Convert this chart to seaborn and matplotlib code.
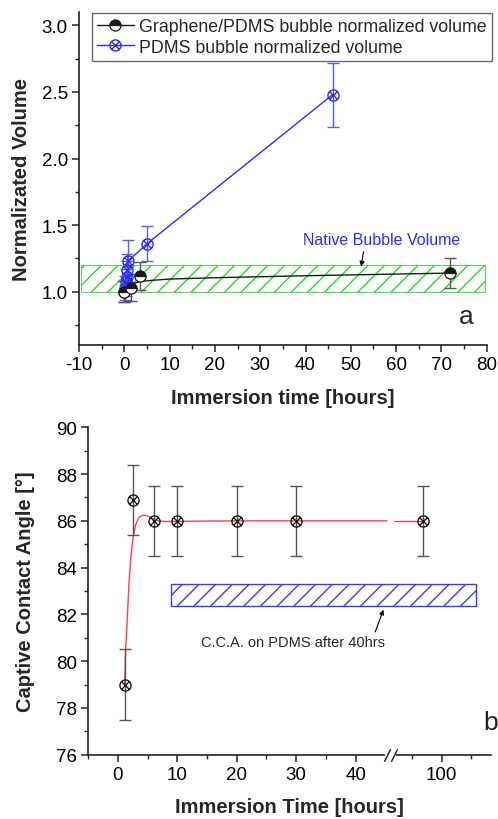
import numpy as np
import pandas as pd
import matplotlib
matplotlib.use("Agg")
import matplotlib.pyplot as plt
import matplotlib.transforms as mtransforms
import seaborn as sns
from matplotlib.path import Path
from matplotlib.patches import Rectangle
from matplotlib.lines import Line2D
from matplotlib.ticker import FixedLocator, MultipleLocator

# ---------------- data: panel a ----------------
pdms_time = [0.0, 0.15, 0.3, 0.5, 0.65, 0.83, 5.0, 46.0]
pdms_vol = [1.00, 1.03, 1.07, 1.11, 1.16, 1.23, 1.36, 2.48]
pdms_err = [0.08, 0.09, 0.10, 0.12, 0.12, 0.155, 0.13, 0.24]

gr_time = [0.0, 1.5, 3.5, 72.0]
gr_vol = [1.00, 1.03, 1.115, 1.14]
gr_err = [0.08, 0.10, 0.105, 0.11]

gr_fit_time = [0.0, 0.5, 1.0, 1.5, 2.0, 3.0, 4.0, 6.0, 10.0, 20.0, 40.0, 72.0]
gr_fit_vol = [1.00, 1.03, 1.045, 1.055, 1.062, 1.072, 1.078, 1.085, 1.095, 1.105, 1.12, 1.14]

native_low, native_high = 1.0, 1.2

# ---------------- data: panel b ----------------
cca_time = [1.1, 2.5, 6.0, 10.0, 20.0, 30.0, 96.8]
cca_angle = [79.0, 86.9, 86.0, 86.0, 86.0, 86.0, 86.0]
cca_err = [1.5, 1.5, 1.5, 1.5, 1.5, 1.5, 1.5]

cca_fit_time = [1.13, 1.29, 1.45, 1.58, 1.72, 1.85, 2.0, 2.13, 2.28, 2.42, 2.55, 2.69, 2.83,
                2.97, 3.25, 3.53, 3.95, 4.37, 4.94, 5.35, 5.78, 6.3, 6.9, 8.0, 10.0, 20.0,
                30.0, 45.3, 91.9, 96.8]
cca_fit_angle = [79.0, 80.5, 81.25, 81.9, 82.65, 83.34, 83.87, 84.33, 84.72, 85.04, 85.27,
                 85.46, 85.65, 85.82, 86.0, 86.14, 86.21, 86.24, 86.21, 86.16, 86.1, 86.04,
                 86.0, 85.97, 85.98, 86.0, 86.0, 86.0, 86.0, 86.0]
cca_fit_segment = [0] * 28 + [1] * 2

pdms_cca_low, pdms_cca_high = 82.35, 83.3
pdms_cca_t0, pdms_cca_t1 = 9.0, 105.7

# ---------------- style ----------------
sns.set_style("ticks")
plt.rcParams["font.family"] = ["Liberation Sans", "DejaVu Sans"]
plt.rcParams["hatch.linewidth"] = 1.0

BLUE = "#2b2bff"
BLACK = "#1a1a1a"
GREY = "#555555"
GREEN = "#22dd22"
RED = "#ff4040"

# circle with an X inside
_circ = Path.unit_circle()
_d = 0.72
_x1 = Path([(-_d, -_d), (_d, _d)], [Path.MOVETO, Path.LINETO])
_x2 = Path([(-_d, _d), (_d, -_d)], [Path.MOVETO, Path.LINETO])
OTIMES = Path.make_compound_path(_circ, _x1, _x2)

fig = plt.figure(figsize=(4.98, 8.20), dpi=100)
W, H = 498.0, 820.0
ax1 = fig.add_axes([79 / W, 1 - 346 / H, (486.7 - 79) / W, (346 - 13) / H])
ax2 = fig.add_axes([88.3 / W, 1 - 755.7 / H, (491 - 88.3) / W, (755.7 - 428.3) / H])

TICK_FS = 13.5
LABEL_FS = 14.5

# ================= panel a =================
ax1.add_patch(Rectangle((-9.6, native_low), 89.3, native_high - native_low,
                        facecolor="none", edgecolor=GREEN, hatch="//", lw=0.6, zorder=1))

df_pdms = pd.DataFrame({"t": pdms_time, "v": pdms_vol})
sns.lineplot(data=df_pdms, x="t", y="v", ax=ax1, color=BLUE, lw=1.0,
             estimator=None, sort=False, zorder=3)
ax1.errorbar(pdms_time, pdms_vol, yerr=pdms_err, fmt="none", ecolor="#5a5aff",
             elinewidth=1.0, capsize=4.5, capthick=1.0, zorder=3)
ax1.plot(pdms_time, pdms_vol, ls="none", marker=OTIMES, ms=8, mfc="none",
         mec=BLUE, mew=1.0, zorder=4)

df_fit = pd.DataFrame({"t": gr_fit_time, "v": gr_fit_vol})
sns.lineplot(data=df_fit, x="t", y="v", ax=ax1, color=BLACK, lw=1.0,
             estimator=None, zorder=3)
ax1.errorbar(gr_time, gr_vol, yerr=gr_err, fmt="none", ecolor=GREY,
             elinewidth=1.0, capsize=4.5, capthick=1.0, zorder=3)
ax1.plot(gr_time, gr_vol, ls="none", marker="o", ms=8, fillstyle="top",
         mfc=BLACK, mfcalt="white", mec=BLACK, mew=0.9, zorder=4)

ax1.set_xlim(-10, 80)
ax1.set_ylim(0.6, 3.1)
ax1.xaxis.set_major_locator(MultipleLocator(10))
ax1.xaxis.set_minor_locator(MultipleLocator(5))
ax1.yaxis.set_major_locator(FixedLocator([1.0, 1.5, 2.0, 2.5, 3.0]))
ax1.yaxis.set_minor_locator(MultipleLocator(0.25))
ax1.set_xticklabels([f"{int(v)}" for v in ax1.get_xticks()])
ax1.set_yticklabels([f"{v:.1f}" for v in ax1.get_yticks()])
ax1.set_xlabel("Immersion time [hours]", fontsize=LABEL_FS, fontweight="bold", labelpad=11)
ax1.set_ylabel("Normalizated Volume", fontsize=LABEL_FS, fontweight="bold", labelpad=8)

ax1.text(56.8, 1.39, "Native Bubble Volume", color=BLUE, fontsize=11.5,
         ha="center", va="center")
ax1.annotate("", xy=(52.3, 1.19), xytext=(52.8, 1.30),
             arrowprops=dict(arrowstyle="-|>", color="black", lw=0.8,
                             mutation_scale=7, shrinkA=0, shrinkB=0))
ax1.text(75.5, 0.82, "a", fontsize=19, ha="center", va="center")

handles = [
    Line2D([], [], color=BLACK, lw=1.0, marker="o", ms=8, fillstyle="top",
           mfc=BLACK, mfcalt="white", mec=BLACK, mew=0.9),
    Line2D([], [], color=BLUE, lw=1.0, marker=OTIMES, ms=8, mfc="none",
           mec=BLUE, mew=1.0),
]
leg = ax1.legend(handles, ["Graphene/PDMS bubble normalized volume",
                           "PDMS bubble normalized volume"],
                 loc="upper left", bbox_to_anchor=(91.7 / W, 1 - 14 / H),
                 bbox_transform=fig.transFigure, borderaxespad=0,
                 fontsize=12.8, frameon=True, fancybox=False, handlelength=2.1,
                 handletextpad=0.3, borderpad=0.28, labelspacing=0.2)
leg.get_frame().set_edgecolor("#444444")
leg.get_frame().set_linewidth(1.0)

# ================= panel b (broken x axis) =================
B1, B2 = 45.3, 91.9
SHIFT = 45.5
SLOPE = ((B2 - SHIFT) - B1) / (B2 - B1)


def fwd(x):
    x = np.asarray(x, dtype=float)
    return np.where(x <= B1, x, np.where(x >= B2, x - SHIFT, B1 + (x - B1) * SLOPE))


def inv(y):
    y = np.asarray(y, dtype=float)
    yb2 = B2 - SHIFT
    return np.where(y <= B1, y, np.where(y >= yb2, y + SHIFT, B1 + (y - B1) / SLOPE))


ax2.set_xscale("function", functions=(fwd, inv))

ax2.add_patch(Rectangle((pdms_cca_t0, pdms_cca_low), pdms_cca_t1 - pdms_cca_t0,
                        pdms_cca_high - pdms_cca_low, facecolor="none",
                        edgecolor="#3a3aff", hatch="//", lw=1.0, zorder=1))

df_cfit = pd.DataFrame({"t": cca_fit_time, "a": cca_fit_angle, "seg": cca_fit_segment})
sns.lineplot(data=df_cfit, x="t", y="a", units="seg", estimator=None, ax=ax2,
             color=RED, lw=1.0, zorder=3)
ax2.errorbar(cca_time, cca_angle, yerr=cca_err, fmt="none", ecolor=GREY,
             elinewidth=1.0, capsize=4.5, capthick=1.0, zorder=3)
ax2.plot(cca_time, cca_angle, ls="none", marker=OTIMES, ms=8, mfc="none",
         mec=BLACK, mew=1.0, zorder=4)

ax2.set_xlim(-5, 108.3)
ax2.set_ylim(76, 90)
ax2.xaxis.set_major_locator(FixedLocator([0, 10, 20, 30, 40, 100]))
ax2.xaxis.set_minor_locator(FixedLocator([-5, 5, 15, 25, 35, 95, 105]))
ax2.set_xticklabels(["0", "10", "20", "30", "40", "100"])
ax2.yaxis.set_major_locator(MultipleLocator(2))
ax2.yaxis.set_minor_locator(MultipleLocator(1))
ax2.set_yticklabels([f"{int(v)}" for v in ax2.get_yticks()])
ax2.set_xlabel("Immersion Time [hours]", fontsize=LABEL_FS, fontweight="bold", labelpad=10.5)
ax2.set_ylabel("Captive Contact Angle [°]", fontsize=LABEL_FS, fontweight="bold", labelpad=15.5)

ax2.text(29.4, 80.8, "C.C.A. on PDMS after 40hrs", fontsize=10.5,
         ha="center", va="center")
ax2.annotate("", xy=(44.7, 82.2), xytext=(43.3, 81.25),
             arrowprops=dict(arrowstyle="-|>", color="black", lw=0.8,
                             mutation_scale=7, shrinkA=0, shrinkB=0))
ax2.text(108.3, 77.4, "b", fontsize=19, ha="center", va="center", clip_on=False)

# break marks on the x axis
blend = mtransforms.blended_transform_factory(ax2.transData, ax2.transAxes)
ax2.plot([B1, B2], [0, 0], color="white", lw=3, transform=blend, clip_on=False, zorder=10)
SLASH = Path([(-0.5, -1.0), (0.5, 1.0)], [Path.MOVETO, Path.LINETO])
ax2.plot([B1, B2], [0, 0], ls="none", marker=SLASH, ms=9, mec=BLACK, mew=1.0,
         transform=blend, clip_on=False, zorder=11)

for ax in (ax1, ax2):
    sns.despine(ax=ax)
    for s in ("left", "bottom"):
        ax.spines[s].set_linewidth(1.2)
        ax.spines[s].set_color("#222222")
    ax.tick_params(which="major", direction="out", length=5, width=1.1,
                   labelsize=TICK_FS, colors="#222222", pad=3)
    ax.tick_params(which="minor", direction="out", length=3, width=1.0,
                   colors="#222222")
    ax.tick_params(axis="both", labelcolor="black")

fig.savefig("out.png", dpi=100)
